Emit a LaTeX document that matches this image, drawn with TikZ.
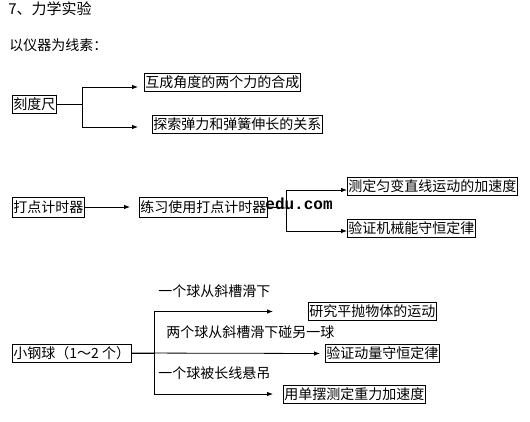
\documentclass[tikz,border=0pt]{standalone}
\usepackage{fontspec}
\setmainfont{Noto Sans CJK SC}
\newfontfamily\markfont{Liberation Mono}
\usetikzlibrary{arrows.meta}
\tikzset{
  box/.style={draw, anchor=west, inner xsep=1pt, inner ysep=2pt, text height=12pt, text depth=2pt},
  note/.style={anchor=west, inner sep=0pt}
}
\begin{document}
\begin{tikzpicture}[x=1pt, y=-1pt, line width=0.8pt, >={Latex[length=6pt,width=4.5pt]}, font=\fontsize{14pt}{16pt}\selectfont]
    \useasboundingbox (0,0) rectangle (530,421);
    \node[note] (title) at (8,9) {\fontsize{15pt}{17pt}\selectfont 7、力学实验};
    \node[note] (clue) at (9,45) {以仪器为线素：};
    \node[box] (ruler) at (12,104) {刻度尺};
    \node[box] (s11) at (144,82) {互成角度的两个力的合成};
    \node[box] (s12) at (152,124) {探索弹力和弹簧伸长的关系};
    \coordinate (j1) at (82,104);
    \draw[->, shorten >=6pt] (ruler.east) -- (j1) |- ([yshift=-5pt]s11.west);
    \draw[->, shorten >=14pt] (j1) |- ([yshift=-3pt]s12.west);
    \node[box, inner ysep=3pt] (timer) at (12,207) {打点计时器};
    \node[box, inner ysep=3pt] (practice) at (139,207) {练习使用打点计时器};
    \node[box] (s21) at (347,186.5) {测定匀变直线运动的加速度};
    \node[box] (s22) at (347,228) {验证机械能守恒定律};
    \coordinate (j2) at (286,208);
    \draw[->, shorten >=9pt] (timer) -- (practice);
    \draw (practice.east) -- (j2);
    \draw[->] (j2) |- ([yshift=-3.5pt]s21.west);
    \draw[->] (j2) |- ([yshift=-3pt]s22.west);
    \node[note] (mark) at (265,204) {\markfont\bfseries\fontsize{16pt}{18pt}\selectfont edu.com};
    \node[box] (ball) at (12,353) {小钢球（1～2 个）};
    \node[box] (s31) at (308,311.5) {研究平抛物体的运动};
    \node[box] (s32) at (325,353.5) {验证动量守恒定律};
    \node[box] (s33) at (283,394) {用单摆测定重力加速度};
    \node[note] (l31) at (158,291) {一个球从斜槽滑下};
    \node[note] (l32) at (166,332) {两个球从斜槽滑下碰另一球};
    \node[note] (l33) at (158,373) {一个球被长线悬吊};
    \coordinate (j3) at (154,353);
    \draw[->, shorten >=35pt] (ball.east) -- (j3) |- (s31.west);
    \draw[->, shorten >=5pt] (ball.east) -- (s32.west);
    \draw[->, shorten >=10pt] (j3) |- (s33.west);
\end{tikzpicture}
\end{document}
